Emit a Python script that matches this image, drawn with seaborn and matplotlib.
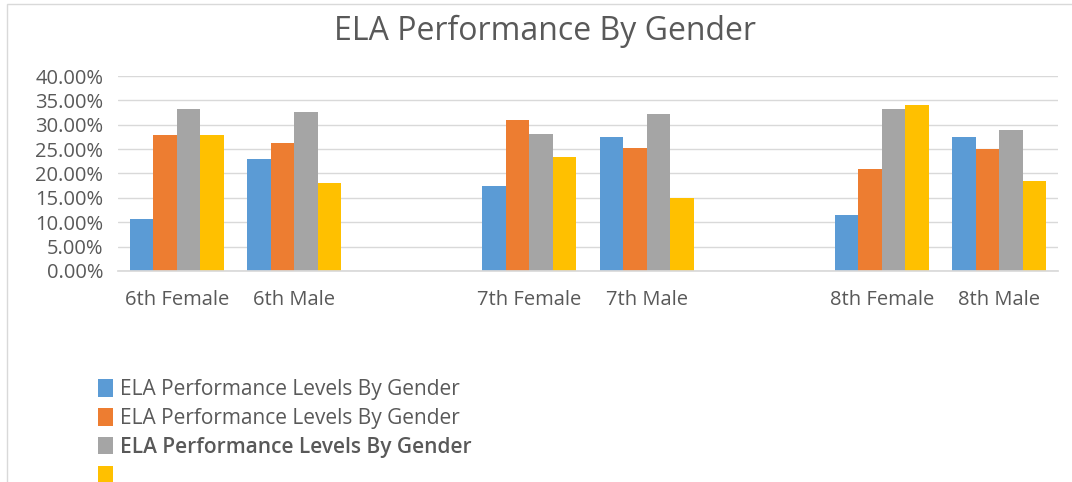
import matplotlib
matplotlib.use("Agg")
import matplotlib.pyplot as plt
import seaborn as sns
import pandas as pd
from matplotlib.patches import Patch, Rectangle

categories = ["6th Female", "6th Male", " ", "7th Female", "7th Male", "  ", "8th Female", "8th Male"]
data_categories = ["6th Female", "6th Male", "7th Female", "7th Male", "8th Female", "8th Male"]
series_keys = ["s1", "s2", "s3", "s4"]
series_labels = ["ELA Performance Levels By Gender",
                 "ELA Performance Levels By Gender",
                 "ELA Performance Levels By Gender",
                 ""]
s1 = [0.106, 0.230, 0.174, 0.275, 0.114, 0.274]
s2 = [0.280, 0.262, 0.310, 0.252, 0.210, 0.251]
s3 = [0.333, 0.327, 0.281, 0.323, 0.333, 0.289]
s4 = [0.280, 0.180, 0.234, 0.150, 0.341, 0.185]
colors = ["#5B9BD5", "#ED7D31", "#A5A5A5", "#FFC000"]
yticks = [0.0, 0.05, 0.10, 0.15, 0.20, 0.25, 0.30, 0.35, 0.40]

rows = []
for key, vals in zip(series_keys, [s1, s2, s3, s4]):
    for c, v in zip(data_categories, vals):
        rows.append({"cat": c, "series": key, "value": v})
df = pd.DataFrame(rows)

sns.set_theme(style="white")
plt.rcParams["font.family"] = ["Open Sans", "DejaVu Sans"]
text_color = "#595959"

fig = plt.figure(figsize=(10.72, 4.82), dpi=100)
ax = fig.add_axes([0.110, 0.4378, 0.877, 0.4045])

sns.barplot(data=df, x="cat", y="value", hue="series", order=categories,
            hue_order=series_keys, palette=colors, width=0.8, saturation=1,
            ax=ax, legend=False, errorbar=None, linewidth=0)

ax.set_ylim(0, 0.40)
ax.set_xlim(-0.5, len(categories) - 0.5)
ax.set_yticks(yticks)
ax.set_yticklabels([f"{v*100:.2f}%" for v in yticks], fontsize=14.5, color=text_color)
ax.set_xticks(range(len(categories)))
ax.set_xticklabels(categories, fontsize=14.5, color=text_color)
ax.set_xlabel("")
ax.set_ylabel("")
ax.yaxis.grid(True, color="#D9D9D9", linewidth=1)
ax.set_axisbelow(True)
for side in ["top", "right", "left"]:
    ax.spines[side].set_visible(False)
ax.spines["bottom"].set_color("#D9D9D9")
ax.tick_params(axis="both", length=0)
ax.tick_params(axis="y", pad=10.5)
ax.tick_params(axis="x", pad=13.5)

fig.text(0.508, 0.935, "ELA Performance By Gender", ha="center", va="center",
         fontsize=23, color=text_color)

handles = [Patch(facecolor=c, edgecolor="none") for c in colors]
leg = fig.legend(handles, series_labels, loc="upper left",
                 bbox_to_anchor=(0.084, 0.231), frameon=False,
                 fontsize=15, handlelength=0.72, handleheight=0.92,
                 handletextpad=0.33, labelspacing=0.38, borderaxespad=0)
for i, t in enumerate(leg.get_texts()):
    t.set_color(text_color)
    if i == 2:
        t.set_fontweight("semibold")

fig.patches.append(Rectangle((0.0065, -0.01), 1.1, 1.0017, transform=fig.transFigure,
                             fill=False, edgecolor="#D9D9D9", linewidth=1))

fig.savefig("out.png", dpi=100)
